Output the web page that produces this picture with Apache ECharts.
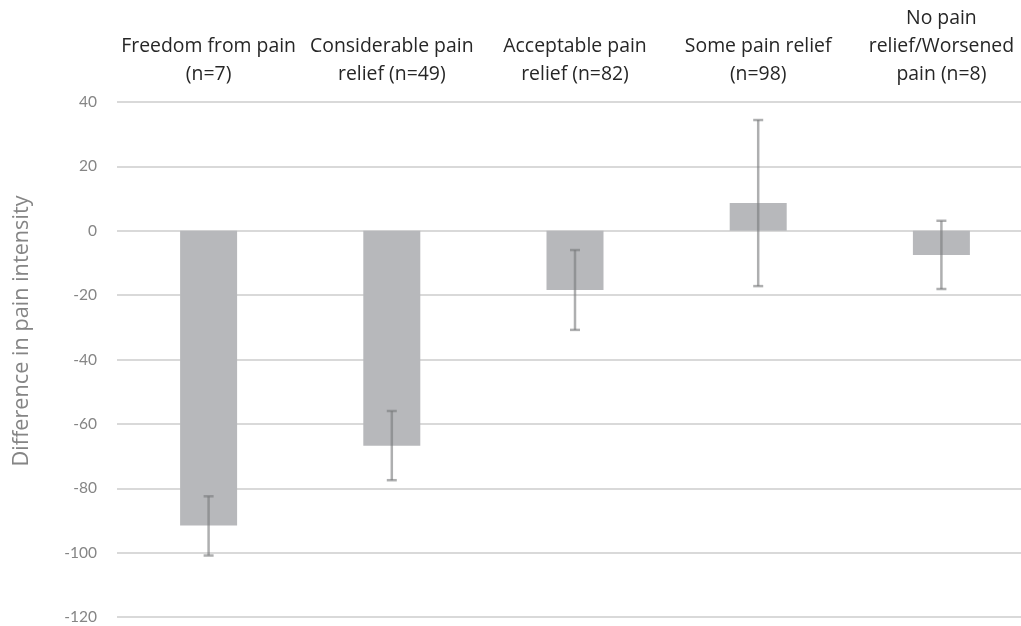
<!DOCTYPE html>
<html>
<head>
<meta charset="utf-8">
<script src="https://cdn.jsdelivr.net/npm/echarts@6/dist/echarts.min.js"></script>
<style>
  html, body { margin: 0; padding: 0; background: #ffffff; overflow: hidden; }
  /* the plot runs a little past the right edge of the page */
  #chart { width: 1040px; height: 626px; }
</style>
</head>
<body>
<div id="chart"></div>
<script>
// Pain relief groups (top axis) and the mean change in pain intensity per group
const categories = [
  'Freedom from pain\n(n=7)',
  'Considerable pain\nrelief (n=49)',
  'Acceptable pain\nrelief (n=82)',
  'Some pain relief\n(n=98)',
  'No pain\nrelief/Worsened\npain (n=8)'
];
const meanDiff = [-91.6, -66.8, -18.4, 8.6, -7.5];
// Lower and upper ends of the error bars
const errLow  = [-100.9, -77.5, -30.8, -17.2, -18.1];
const errHigh = [-82.5, -56.0, -6.0, 34.4, 3.1];
// Value-axis range and step
const yMin = -120, yMax = 40, yStep = 20;

const labelFont = "'Open Sans', sans-serif";

const chart = echarts.init(document.getElementById('chart'), null, { renderer: 'canvas' });

const errorData = categories.map((c, i) => [i, errLow[i], errHigh[i]]);

chart.setOption({
  animation: false,
  backgroundColor: '#ffffff',
  grid: { left: 117, top: 102, width: 916, height: 515, containLabel: false },
  xAxis: {
    type: 'category',
    position: 'top',
    data: categories,
    axisLine: { show: false },
    axisTick: { show: false },
    splitLine: { show: false },
    axisLabel: {
      interval: 0,
      margin: 14,
      color: '#262626',
      fontFamily: labelFont,
      fontSize: 19.4,
      lineHeight: 28,
      align: 'center'
    }
  },
  yAxis: {
    type: 'value',
    min: yMin,
    max: yMax,
    interval: yStep,
    axisLine: { show: false },
    axisTick: { show: false },
    axisLabel: {
      margin: 20,
      color: '#858585',
      fontFamily: "Lato, sans-serif",
      fontSize: 15.5
    },
    splitLine: { lineStyle: { color: '#d9d9d9', width: 2 } }
  },
  graphic: [{
    type: 'text',
    x: 22,
    y: 331,
    rotation: Math.PI / 2,
    style: {
      text: 'Difference in pain intensity',
      fill: '#858585',
      font: "21.7px " + labelFont,
      align: 'center',
      verticalAlign: 'middle'
    }
  }],
  series: [
    {
      type: 'bar',
      data: meanDiff,
      barWidth: 57,
      itemStyle: { color: '#b7b8bb' },
      z: 2
    },
    {
      type: 'custom',
      data: errorData,
      z: 3,
      renderItem: function (params, api) {
        const x = api.value(0);
        const lo = api.coord([x, api.value(1)]);
        const hi = api.coord([x, api.value(2)]);
        const half = 5;
        const style = { stroke: 'rgba(120,121,124,0.6)', lineWidth: 2.5 };
        return {
          type: 'group',
          children: [
            { type: 'line', shape: { x1: lo[0], y1: lo[1], x2: hi[0], y2: hi[1] }, style: style },
            { type: 'line', shape: { x1: lo[0] - half, y1: lo[1], x2: lo[0] + half, y2: lo[1] }, style: style },
            { type: 'line', shape: { x1: hi[0] - half, y1: hi[1], x2: hi[0] + half, y2: hi[1] }, style: style }
          ]
        };
      }
    }
  ]
});
</script>
</body>
</html>
